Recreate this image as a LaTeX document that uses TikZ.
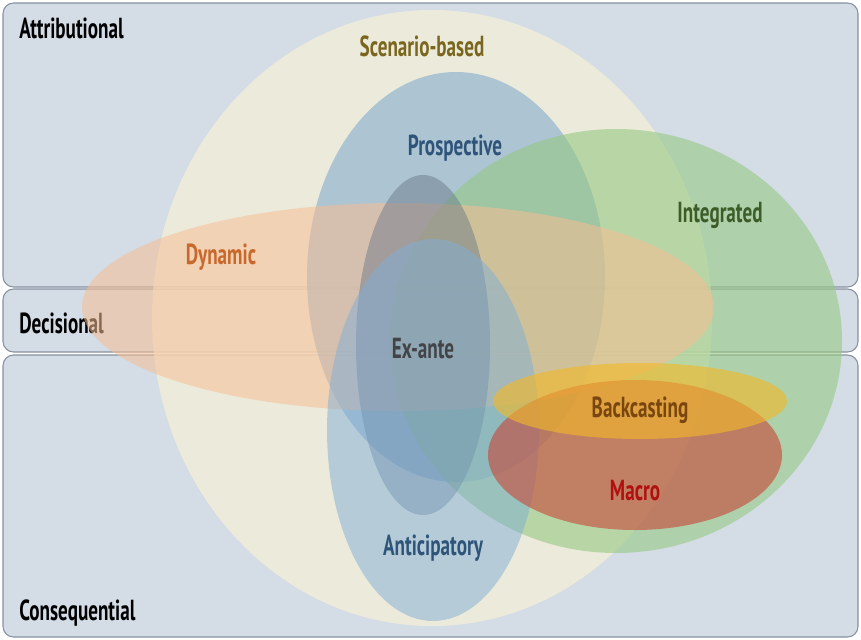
\documentclass[tikz,border=0pt]{standalone}
\usepackage{fontspec}
\usepackage{tikz}
\newfontfamily\tagfont[FakeStretch=0.66]{PT Sans}
\definecolor{bandfill}{RGB}{212,220,230}
\definecolor{bandline}{RGB}{135,145,158}
\definecolor{scencol}{RGB}{246,241,216}
\definecolor{procol}{RGB}{122,164,204}
\definecolor{intcol}{RGB}{150,200,130}
\definecolor{dyncol}{RGB}{246,190,148}
\definecolor{excol}{RGB}{100,116,134}
\definecolor{antcol}{RGB}{128,174,214}
\definecolor{backcol}{RGB}{242,184,40}
\definecolor{maccol}{RGB}{200,70,56}
\tikzset{every picture/.style={x=0.02cm,y=-0.02cm}}
\tikzset{band/.style={draw=bandline,fill=bandfill,rounded corners=6pt,line width=0.6pt}}
\tikzset{head/.style={font=\tagfont\bfseries\fontsize{16.5}{18}\selectfont,anchor=west,text=black,inner sep=0pt}}
\tikzset{tag/.style={font=\tagfont\bfseries\fontsize{16.5}{18}\selectfont,inner sep=0pt}}

\begin{document}
\begin{tikzpicture}
\useasboundingbox (0,0) rectangle (861,639);

\draw [band] (3,3) rectangle (858,287);
\draw [band] (3,289) rectangle (858,352);
\draw [band] (3,355) rectangle (858,637);

\node [head] (attr) at (19,28) {Attributional};
\node [head] (deci) at (19,323) {Decisional};
\node [head] (cons) at (19,613) {Consequential};

\fill [scencol,fill opacity=.72] (432,318) ellipse [x radius=280,y radius=308];
\fill [procol,fill opacity=.55] (456,277) ellipse [x radius=149,y radius=205];
\fill [intcol,fill opacity=.6] (616,341) ellipse [x radius=226,y radius=212];
\fill [dyncol,fill opacity=.55] (398,307) ellipse [x radius=316,y radius=104];
\fill [excol,fill opacity=.45] (423,345) ellipse [x radius=67,y radius=170];
\fill [antcol,fill opacity=.5] (433,430) ellipse [x radius=106,y radius=191];
\fill [maccol,fill opacity=.6] (635,455) ellipse [x radius=147,y radius=75];
\fill [backcol,fill opacity=.62] (640,401) ellipse [x radius=147,y radius=38];

\node [tag,text={rgb,255:red,122;green,102;blue,30}] (scen) at (422,46) {Scenario-based};
\node [tag,text={rgb,255:red,46;green,84;blue,122}] (pros) at (455,148) {Prospective};
\node [tag,text={rgb,255:red,60;green,92;blue,40}] (inte) at (720,215) {Integrated};
\node [tag,text={rgb,255:red,200;green,104;blue,44}] (dyna) at (221,257) {Dynamic};
\node [tag,text={rgb,255:red,66;green,68;blue,72}] (exan) at (423,349) {Ex-ante};
\node [tag,text={rgb,255:red,122;green,70;blue,16}] (back) at (640,410) {Backcasting};
\node [tag,text={rgb,255:red,176;green,16;blue,16}] (macr) at (635,491) {Macro};
\node [tag,text={rgb,255:red,46;green,84;blue,122}] (anti) at (433,548) {Anticipatory};
\end{tikzpicture}
\end{document}
